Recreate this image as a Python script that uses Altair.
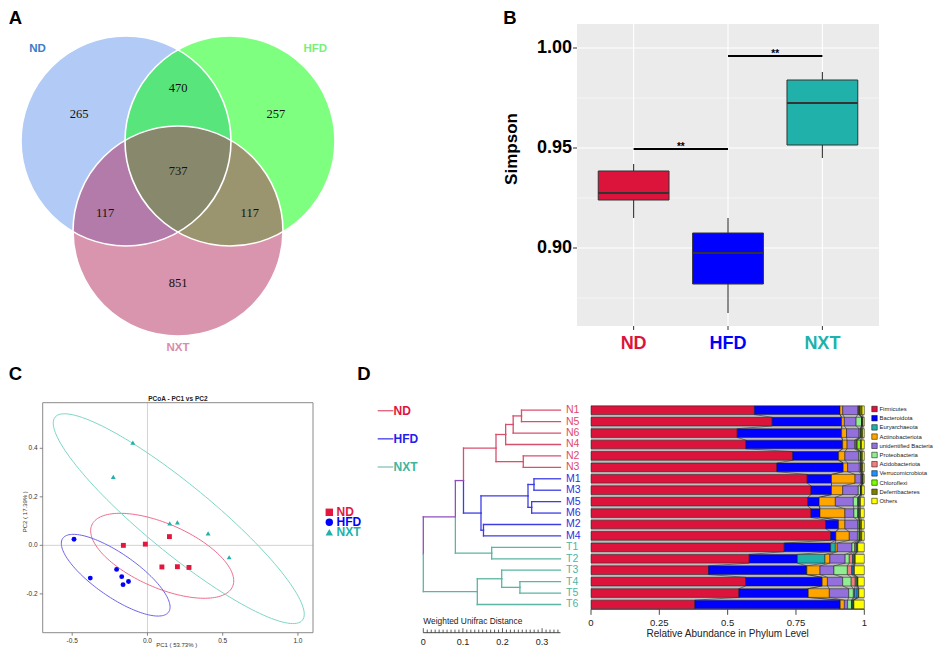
import altair as alt
import numpy as np
import pandas as pd

W, H = 925, 643
SANS = "Liberation Sans"
SERIF = "Liberation Serif"


def P(x):
    return round(x - 8.0, 2)


def Q(y):
    return round(y - 8.0, 2)


def lin(domain, rng):
    return alt.Scale(domain=list(domain), range=list(rng), zero=False, nice=False)


def pts(domain, rng):
    return alt.Scale(type="point", domain=list(domain), range=list(rng), padding=0)


# ======================= DATA =======================
# ---- A: Venn ----
venn_sets = ["ND", "HFD", "NXT"]
venn_regions = ["ND only", "ND & HFD", "HFD only", "all three", "ND & NXT", "HFD & NXT", "NXT only"]
venn_counts = [265, 470, 257, 737, 117, 117, 851]
venn_fill = ["#6495ED", "#00FF00", "#B52B5D"]
venn_label_colors = ["#3A7CC8", "#78F078", "#D98CAA"]

# ---- B: Simpson boxplot ----
b_groups = ["ND", "HFD", "NXT"]
b_colors = ["#DC143C", "#0000FF", "#20B2AA"]
b_lower = [0.915, 0.8675, 0.945]
b_q1 = [0.924, 0.882, 0.9515]
b_median = [0.9275, 0.8975, 0.9725]
b_q3 = [0.9385, 0.9075, 0.984]
b_upper = [0.942, 0.915, 0.988]
b_yticks = [0.90, 0.95, 1.00]
b_yminor = [0.875, 0.925, 0.975]
sig_from = ["ND", "HFD"]
sig_to = ["HFD", "NXT"]
sig_y = [0.9495, 0.996]
sig_label = ["**", "**"]

# ---- C: PCoA ----
c_groups = ["ND", "HFD", "NXT"]
c_point_colors = ["#E3173E", "#0000FF", "#20B2AA"]
c_shapes = ["square", "circle", "triangle-up"]
c_nd_pc1 = [-0.160, -0.014, 0.146, 0.096, 0.199, 0.276]
c_nd_pc2 = [0.000, 0.005, 0.036, -0.089, -0.088, -0.091]
c_hfd_pc1 = [-0.488, -0.380, -0.205, -0.171, -0.126, -0.162]
c_hfd_pc2 = [0.025, -0.135, -0.099, -0.129, -0.149, -0.162]
c_nxt_pc1 = [-0.097, -0.227, 0.148, 0.199, 0.403, 0.543]
c_nxt_pc2 = [0.423, 0.282, 0.091, 0.095, 0.049, -0.049]
c_xticks = [-0.5, 0.0, 0.5, 1.0]
c_yticks = [-0.2, 0.0, 0.2, 0.4]
# confidence ellipses: centre (data units), semi-axes (px), tilt (deg)
ell_colors = ["#EE6E8E", "#6E64E6", "#7ED6C6"]
ell_cx = [0.098, -0.211, 0.208]
ell_cy = [-0.043, -0.123, 0.110]
ell_a = [76.8, 64.5, 160.0]
ell_b = [32.0, 21.6, 34.0]
ell_tilt = [23.6, 34.8, 39.4]

# ---- D: dendrogram + phylum bars ----
d_samples = ["N1", "N5", "N6", "N4", "N2", "N3", "M1", "M3", "M5", "M6", "M2", "M4",
             "T1", "T2", "T3", "T4", "T5", "T6"]
prefix_group = {"N": "ND", "M": "HFD", "T": "NXT"}
d_groups = ["ND", "HFD", "NXT"]
tree_line_colors = ["#D9506E", "#3D3DE6", "#5BB5A2"]
tree_mixed_color = "#8E4FC0"
tree_label_colors = ["#E04A6A", "#3030E0", "#50B4A4"]
legend_line_colors = ["#E0607A", "#3C3CE8", "#86C3B8"]
legend_text_colors = ["#E0143C", "#1E1EF0", "#3DB5A0"]

tree_node = ["a", "b", "c", "e", "Ncl", "g", "h", "i", "j", "Mcl", "NM", "T12", "A", "T45", "T345", "Tcl", "root"]
tree_left = ["N1", "a", "b", "N2", "c", "M1", "M5", "g", "M2", "i", "Ncl", "T1", "NM", "T4", "T3", "T345", "A"]
tree_right = ["N5", "N6", "N4", "N3", "e", "M3", "M6", "h", "M4", "j", "Mcl", "T2", "T12", "T5", "T45", "T6", "Tcl"]
tree_pos = [0.248, 0.227, 0.208, 0.2525, 0.1836, 0.2795, 0.2737, 0.2644, 0.152, 0.1457,
            0.1015, 0.1727, 0.081, 0.244, 0.198, 0.1364, 0.0]
leaf_pos = 0.3465
dist_ticks = [round(0.01 * k, 2) for k in range(35)]
dist_labels = [0, 0.1, 0.2, 0.3]

phyla = ["Firmicutes", "Bacteroidota", "Euryarchaeota", "Actinobacteriota", "unidentified Bacteria",
         "Proteobacteria", "Acidobacteriota", "Verrucomicrobiota", "Chloroflexi", "Deferribacteres", "Others"]
phyla_colors = ["#DC143C", "#0000FF", "#20B2AA", "#FFA500", "#9370DB", "#90EE90", "#F08080",
                "#1E90FF", "#7CFC00", "#808000", "#FFFF00"]
firmicutes = [0.598, 0.663, 0.535, 0.567, 0.738, 0.680, 0.791, 0.805, 0.793, 0.805, 0.859, 0.877, 0.707, 0.579, 0.430, 0.566, 0.541, 0.380]
bacteroidota = [0.313, 0.254, 0.382, 0.354, 0.168, 0.243, 0.089, 0.075, 0.042, 0.033, 0.047, 0.019, 0.170, 0.176, 0.359, 0.279, 0.253, 0.531]
euryarchaeota = [0, 0, 0, 0, 0, 0, 0, 0, 0, 0, 0, 0, 0.017, 0.101, 0.001, 0.001, 0.001, 0.001]
actinobacteriota = [0.010, 0.010, 0.018, 0.016, 0.023, 0.016, 0.086, 0.041, 0.059, 0.091, 0.023, 0.049, 0.007, 0.018, 0.048, 0.019, 0.077, 0.015]
unidentified = [0.055, 0.043, 0.046, 0.028, 0.050, 0.043, 0.022, 0.057, 0.066, 0.033, 0.047, 0.030, 0.054, 0.056, 0.051, 0.056, 0.071, 0.012]
proteobacteria = [0.004, 0.020, 0.004, 0.004, 0.006, 0.005, 0.003, 0.008, 0.016, 0.014, 0.005, 0.006, 0.010, 0.015, 0.049, 0.031, 0.017, 0.014]
acidobacteriota = [0.001, 0.001, 0.001, 0.004, 0.001, 0.001, 0.001, 0.001, 0.002, 0.002, 0.001, 0.001, 0.005, 0.012, 0.016, 0.015, 0.004, 0.002]
verrucomicrobiota = [0.001, 0.001, 0.001, 0.001, 0.001, 0.001, 0.001, 0.001, 0.002, 0.002, 0.001, 0.001, 0.003, 0.005, 0.005, 0.005, 0.010, 0.003]
chloroflexi = [0.002, 0.001, 0.003, 0.012, 0.002, 0.002, 0.002, 0.001, 0.002, 0.002, 0.002, 0.002, 0.002, 0.003, 0.003, 0.003, 0.004, 0.002]
deferribacteres = [0.008, 0.002, 0.004, 0.004, 0.004, 0.003, 0.001, 0.002, 0.004, 0.004, 0.005, 0.006, 0.001, 0.002, 0.002, 0.002, 0.002, 0.002]
others = [0.008, 0.005, 0.006, 0.010, 0.007, 0.006, 0.004, 0.009, 0.014, 0.014, 0.010, 0.009, 0.024, 0.033, 0.036, 0.023, 0.020, 0.038]
abundance = [firmicutes, bacteroidota, euryarchaeota, actinobacteriota, unidentified, proteobacteria,
             acidobacteriota, verrucomicrobiota, chloroflexi, deferribacteres, others]
bar_ticks = [0, 0.25, 0.5, 0.75, 1]
bar_tick_labels = ["0", "0.25", "0.5", "0.75", "1"]

NOAX = dict(axis=None)

# ======================= PANEL A =======================
h3 = float(np.sqrt(3) / 2)
A_X = lin([-1, 1], [P(74), P(282)])
A_Y = lin([-h3, 0], [Q(231), Q(141)])
venn_cx = [-0.5, 0.5, 0.0]
venn_cy = [0.0, 0.0, -h3]
region_x = [-0.95, 0.0, 0.94, 0.0, -0.70, 0.69, 0.0]
region_y = [0.26, 0.51, 0.26, -0.29, -0.69, -0.69, -1.37]
setlab_x = [-1.35, 1.32, 0.0]
setlab_y = [0.885, 0.885, -1.99]

a_circ = pd.DataFrame({"set": venn_sets, "x": venn_cx, "y": venn_cy, "k": [0, 1, 2]})
a_reg = pd.DataFrame({"region": venn_regions, "n": [str(v) for v in venn_counts], "x": region_x, "y": region_y})
a_lab = pd.DataFrame({"set": venn_sets, "x": setlab_x, "y": setlab_y})


def a_xy():
    return dict(x=alt.X("x:Q", scale=A_X, **NOAX), y=alt.Y("y:Q", scale=A_Y, **NOAX))


a_fill = alt.Chart(a_circ).mark_circle(size=210 ** 2, opacity=0.5).encode(
    **a_xy(),
    color=alt.Color("set:N", scale=alt.Scale(domain=venn_sets, range=venn_fill), legend=None),
    order="k:Q")
a_edge = alt.Chart(a_circ).mark_point(shape="circle", size=210 ** 2, filled=False, color="white",
                                      strokeWidth=1.6, opacity=1).encode(**a_xy(), order="k:Q")
a_num = alt.Chart(a_reg).mark_text(font=SERIF, fontSize=12.5, color="#111111").encode(**a_xy(), text="n:N")
a_set = alt.Chart(a_lab).mark_text(font=SANS, fontSize=11.5, fontWeight="bold").encode(
    **a_xy(), text="set:N",
    color=alt.Color("set:N", scale=alt.Scale(domain=venn_sets, range=venn_label_colors), legend=None))
panelA = alt.layer(a_fill, a_edge, a_num, a_set).resolve_scale(color="independent")

# ======================= PANEL B =======================
B_XD = [0.4, 3.6]
B_YD = [0.861, 1.012]
B_X = lin(B_XD, [P(577), P(879)])
B_Y = lin(B_YD, [Q(326), Q(24)])
b_pos = {g: i + 1 for i, g in enumerate(b_groups)}
half = 0.375

b_bgdf = pd.DataFrame({"x0": [B_XD[0]], "x1": [B_XD[1]], "y0": [B_YD[0]], "y1": [B_YD[1]]})
b_bg = alt.Chart(b_bgdf).mark_rect(color="#EBEBEB").encode(
    x=alt.X("x0:Q", scale=B_X, **NOAX), x2="x1:Q",
    y=alt.Y("y0:Q", scale=B_Y, **NOAX), y2="y1:Q")
b_gmaj = alt.Chart(pd.DataFrame({"y": b_yticks, "x0": B_XD[0], "x1": B_XD[1]})).mark_rule(
    color="white", strokeWidth=1.1).encode(
    x=alt.X("x0:Q", scale=B_X, **NOAX), x2="x1:Q", y=alt.Y("y:Q", scale=B_Y, **NOAX))
b_gmin = alt.Chart(pd.DataFrame({"y": b_yminor, "x0": B_XD[0], "x1": B_XD[1]})).mark_rule(
    color="white", strokeWidth=0.5).encode(
    x=alt.X("x0:Q", scale=B_X, **NOAX), x2="x1:Q", y=alt.Y("y:Q", scale=B_Y, **NOAX))
b_gx = alt.Chart(pd.DataFrame({"x": [b_pos[g] for g in b_groups], "y0": B_YD[0], "y1": B_YD[1]})).mark_rule(
    color="white", strokeWidth=1.1).encode(
    x=alt.X("x:Q", scale=B_X, **NOAX), y=alt.Y("y0:Q", scale=B_Y, **NOAX), y2="y1:Q")

b_df = pd.DataFrame({
    "group": b_groups,
    "pos": [b_pos[g] for g in b_groups],
    "lo": b_lower, "q1": b_q1, "med": b_median, "q3": b_q3, "hi": b_upper,
})
b_df["left"] = b_df["pos"] - half
b_df["right"] = b_df["pos"] + half

b_whisk = alt.Chart(b_df).mark_rule(color="#333333", strokeWidth=1.1).encode(
    x=alt.X("pos:Q", scale=B_X, **NOAX), y=alt.Y("lo:Q", scale=B_Y, **NOAX), y2="hi:Q")
b_box = alt.Chart(b_df).mark_rect(stroke="#333333", strokeWidth=1).encode(
    x=alt.X("left:Q", scale=B_X, **NOAX), x2="right:Q",
    y=alt.Y("q1:Q", scale=B_Y, **NOAX), y2="q3:Q",
    color=alt.Color("group:N", scale=alt.Scale(domain=b_groups, range=b_colors), legend=None))
b_med = alt.Chart(b_df).mark_rule(color="#333333", strokeWidth=1.8).encode(
    x=alt.X("left:Q", scale=B_X, **NOAX), x2="right:Q", y=alt.Y("med:Q", scale=B_Y, **NOAX))

s_df = pd.DataFrame({"a": [b_pos[g] for g in sig_from], "b": [b_pos[g] for g in sig_to],
                     "y": sig_y, "t": sig_label})
s_df["mid"] = (s_df["a"] + s_df["b"]) / 2
b_sig = alt.Chart(s_df).mark_rule(color="black", strokeWidth=1.8).encode(
    x=alt.X("a:Q", scale=B_X, **NOAX), x2="b:Q", y=alt.Y("y:Q", scale=B_Y, **NOAX))
b_sigt = alt.Chart(s_df).mark_text(fontSize=10, fontWeight="bold", color="black", baseline="middle", dy=-2).encode(
    x=alt.X("mid:Q", scale=B_X, **NOAX), y=alt.Y("y:Q", scale=B_Y, **NOAX), text="t:N")

# axes of B (ggplot style)
b_yt = pd.DataFrame({"v": b_yticks, "lab": ["%.2f" % v for v in b_yticks]})
b_ytick = alt.Chart(b_yt).mark_rule(color="#333333", strokeWidth=1).encode(
    x=alt.value(P(573)), x2=alt.value(P(577)), y=alt.Y("v:Q", scale=B_Y, **NOAX))
b_ylab = alt.Chart(b_yt).mark_text(align="right", baseline="middle", fontSize=18, fontWeight="bold",
                                   color="black").encode(
    x=alt.value(P(572)), y=alt.Y("v:Q", scale=B_Y, **NOAX), text="lab:N")
b_xt = b_df[["group", "pos"]]
b_xtick = alt.Chart(b_xt).mark_rule(color="#333333", strokeWidth=1).encode(
    x=alt.X("pos:Q", scale=B_X, **NOAX), y=alt.value(Q(326)), y2=alt.value(Q(330)))
b_xlab = alt.Chart(b_xt).mark_text(baseline="middle", fontSize=18, fontWeight="bold").encode(
    x=alt.X("pos:Q", scale=B_X, **NOAX), y=alt.value(Q(343.5)), text="group:N",
    color=alt.Color("group:N", scale=alt.Scale(domain=b_groups, range=b_colors), legend=None))
b_ytitle = alt.Chart(pd.DataFrame({"t": ["Simpson"]})).mark_text(
    angle=270, baseline="middle", fontSize=17, fontWeight="bold", color="black").encode(
    x=alt.value(P(511.7)), y=alt.value(Q(149)), text="t:N")

panelB = alt.layer(b_bg, b_gmin, b_gmaj, b_gx, b_whisk, b_box, b_med, b_sig, b_sigt,
                   b_ytick, b_ylab, b_xtick, b_xlab, b_ytitle)

# ======================= PANEL C =======================
C_XD = [-0.696, 1.10]
C_YD = [-0.360, 0.588]
C_XR = [P(42.7), P(313)]
C_YR = [Q(632.7), Q(402.7)]
C_X = lin(C_XD, C_XR)
C_Y = lin(C_YD, C_YR)
kx = (C_XR[1] - C_XR[0]) / (C_XD[1] - C_XD[0])
ky = (C_YR[0] - C_YR[1]) / (C_YD[1] - C_YD[0])

c_pts = pd.DataFrame({
    "g": ["ND"] * 6 + ["HFD"] * 6 + ["NXT"] * 6,
    "pc1": c_nd_pc1 + c_hfd_pc1 + c_nxt_pc1,
    "pc2": c_nd_pc2 + c_hfd_pc2 + c_nxt_pc2,
})

ell_rows = []
t = np.linspace(0, 2 * np.pi, 145)
for g, cx, cy, a, b, th in zip(c_groups, ell_cx, ell_cy, ell_a, ell_b, ell_tilt):
    r = np.deg2rad(th)
    dx = a * np.cos(t) * np.cos(r) - b * np.sin(t) * np.sin(r)
    dy = a * np.cos(t) * np.sin(r) + b * np.sin(t) * np.cos(r)
    for i in range(len(t)):
        ell_rows.append({"g": g, "i": i, "pc1": cx + dx[i] / kx, "pc2": cy - dy[i] / ky})
c_ell = pd.DataFrame(ell_rows)

c_frame_df = pd.DataFrame({"x0": [C_XD[0]], "x1": [C_XD[1]], "y0": [C_YD[0]], "y1": [C_YD[1]]})
c_frame = alt.Chart(c_frame_df).mark_rect(fillOpacity=0, stroke="#8A8A8A", strokeWidth=1).encode(
    x=alt.X("x0:Q", scale=C_X, **NOAX), x2="x1:Q",
    y=alt.Y("y0:Q", scale=C_Y, **NOAX), y2="y1:Q")
c_v0 = alt.Chart(pd.DataFrame({"x": [0.0], "y0": [C_YD[0]], "y1": [C_YD[1]]})).mark_rule(
    color="#D3D3D3", strokeWidth=1).encode(
    x=alt.X("x:Q", scale=C_X, **NOAX), y=alt.Y("y0:Q", scale=C_Y, **NOAX), y2="y1:Q")
c_h0 = alt.Chart(pd.DataFrame({"y": [0.0], "x0": [C_XD[0]], "x1": [C_XD[1]]})).mark_rule(
    color="#D3D3D3", strokeWidth=1).encode(
    y=alt.Y("y:Q", scale=C_Y, **NOAX), x=alt.X("x0:Q", scale=C_X, **NOAX), x2="x1:Q")
c_lines = alt.Chart(c_ell).mark_line(strokeWidth=1).encode(
    x=alt.X("pc1:Q", scale=C_X, **NOAX), y=alt.Y("pc2:Q", scale=C_Y, **NOAX),
    color=alt.Color("g:N", scale=alt.Scale(domain=c_groups, range=ell_colors), legend=None),
    detail="g:N", order="i:Q")
c_points = alt.Chart(c_pts).mark_point(filled=True, opacity=1, size=24).encode(
    x=alt.X("pc1:Q", scale=C_X, **NOAX), y=alt.Y("pc2:Q", scale=C_Y, **NOAX),
    shape=alt.Shape("g:N", scale=alt.Scale(domain=c_groups, range=c_shapes), legend=None),
    color=alt.Color("g:N", scale=alt.Scale(domain=c_groups, range=c_point_colors), legend=None))
c_title = alt.Chart(pd.DataFrame({"x": [(C_XD[0] + C_XD[1]) / 2], "y": [C_YD[1]],
                                  "t": ["PCoA - PC1 vs PC2"]})).mark_text(
    fontSize=6.5, fontWeight="bold", color="#222222", baseline="bottom", dy=-1).encode(
    x=alt.X("x:Q", scale=C_X, **NOAX), y=alt.Y("y:Q", scale=C_Y, **NOAX), text="t:N")

c_xt = pd.DataFrame({"v": c_xticks, "lab": ["%.1f" % v for v in c_xticks]})
c_yt = pd.DataFrame({"v": c_yticks, "lab": ["%.1f" % v for v in c_yticks]})
c_xtick = alt.Chart(c_xt).mark_rule(color="#666666", strokeWidth=0.8).encode(
    x=alt.X("v:Q", scale=C_X, **NOAX), y=alt.value(Q(632.7)), y2=alt.value(Q(635.7)))
c_xlab = alt.Chart(c_xt).mark_text(baseline="middle", fontSize=6.5, color="#333333").encode(
    x=alt.X("v:Q", scale=C_X, **NOAX), y=alt.value(Q(640.7)), text="lab:N")
c_ytick = alt.Chart(c_yt).mark_rule(color="#666666", strokeWidth=0.8).encode(
    x=alt.value(P(39.7)), x2=alt.value(P(42.7)), y=alt.Y("v:Q", scale=C_Y, **NOAX))
c_ylab = alt.Chart(c_yt).mark_text(align="right", baseline="middle", fontSize=6.5, color="#333333").encode(
    x=alt.value(P(37.6)), y=alt.Y("v:Q", scale=C_Y, **NOAX), text="lab:N")
c_titles = pd.DataFrame({"t": ["PC1 ( 53.73% )"]})
c_xtitle = alt.Chart(c_titles).mark_text(baseline="middle", fontSize=6, color="#333333").encode(
    x=alt.value(P(176.7)), y=alt.value(Q(645.3)), text="t:N")
c_ytitle = alt.Chart(pd.DataFrame({"t": ["PC2 ( 17.39% )"]})).mark_text(
    angle=270, baseline="middle", fontSize=6, color="#333333").encode(
    x=alt.value(P(24.8)), y=alt.value(Q(511.7)), text="t:N")

panelC = alt.layer(c_v0, c_h0, c_frame, c_lines, c_points, c_title,
                   c_xtick, c_xlab, c_ytick, c_ylab, c_xtitle, c_ytitle).resolve_scale(color="independent")

c_leg_df = pd.DataFrame({"g": c_groups})
c_leg_y = pts(c_groups, [Q(512.3), Q(532.3)])
c_leg_sym = alt.Chart(c_leg_df).mark_point(filled=True, opacity=1, size=55).encode(
    x=alt.value(P(329.3)), y=alt.Y("g:N", scale=c_leg_y, **NOAX),
    shape=alt.Shape("g:N", scale=alt.Scale(domain=c_groups, range=c_shapes), legend=None),
    color=alt.Color("g:N", scale=alt.Scale(domain=c_groups, range=c_point_colors), legend=None))
c_leg_txt = alt.Chart(c_leg_df).mark_text(align="left", baseline="middle", fontSize=12,
                                          fontWeight="bold").encode(
    x=alt.value(P(336.5)), y=alt.Y("g:N", scale=c_leg_y, **NOAX), text="g:N",
    color=alt.Color("g:N", scale=alt.Scale(domain=c_groups, range=c_point_colors), legend=None))
legendC = alt.layer(c_leg_sym, c_leg_txt)

# ======================= PANEL D =======================
D_Y = lin([-0.5, len(d_samples) - 0.5], [Q(404.5), Q(610.2)])
D_TX = lin([0, leaf_pos], [P(423.3), P(560.5)])
D_BX = lin([0, 1], [P(591), P(864.3)])

node_y = {s: float(i) for i, s in enumerate(d_samples)}
node_x = {s: leaf_pos for s in d_samples}
node_g = {s: prefix_group[s[0]] for s in d_samples}
segs = []
for n, l, r, p in zip(tree_node, tree_left, tree_right, tree_pos):
    node_y[n] = (node_y[l] + node_y[r]) / 2
    node_x[n] = p
    node_g[n] = node_g[l] if node_g[l] == node_g[r] else "mixed"
    for c in (l, r):
        segs.append({"x": p, "x2": p, "y": node_y[n], "y2": node_y[c], "g": node_g[c]})
        segs.append({"x": p, "x2": node_x[c], "y": node_y[c], "y2": node_y[c], "g": node_g[c]})
seg_df = pd.DataFrame(segs)

tree_dom = d_groups + ["mixed"]
tree_rng = tree_line_colors + [tree_mixed_color]
d_tree = alt.Chart(seg_df).mark_rule(strokeWidth=1.3, strokeCap="square").encode(
    x=alt.X("x:Q", scale=D_TX, **NOAX), x2="x2:Q",
    y=alt.Y("y:Q", scale=D_Y, **NOAX), y2="y2:Q",
    color=alt.Color("g:N", scale=alt.Scale(domain=tree_dom, range=tree_rng), legend=None))
leaf_df = pd.DataFrame({"s": d_samples, "row": list(range(len(d_samples))),
                        "g": [prefix_group[s[0]] for s in d_samples], "x": leaf_pos})
d_leaf = alt.Chart(leaf_df).mark_text(align="left", baseline="middle", dx=5.5, fontSize=10.5).encode(
    x=alt.X("x:Q", scale=D_TX, **NOAX), y=alt.Y("row:Q", scale=D_Y, **NOAX), text="s:N",
    color=alt.Color("g:N", scale=alt.Scale(domain=d_groups, range=tree_label_colors), legend=None))

# distance scale bar (R-style axis, ticks pointing up)
dt_df = pd.DataFrame({"v": dist_ticks})
dt_df["major"] = [abs(v * 10 - round(v * 10)) < 1e-9 for v in dist_ticks]
d_dline = alt.Chart(pd.DataFrame({"a": [0.0], "b": [leaf_pos]})).mark_rule(
    color="#333333", strokeWidth=0.9).encode(
    x=alt.X("a:Q", scale=D_TX, **NOAX), x2="b:Q", y=alt.value(Q(632.7)))
d_dminor = alt.Chart(dt_df[~dt_df["major"]]).mark_rule(color="#333333", strokeWidth=0.8).encode(
    x=alt.X("v:Q", scale=D_TX, **NOAX), y=alt.value(Q(629.6)), y2=alt.value(Q(632.7)))
d_dmajor = alt.Chart(dt_df[dt_df["major"]]).mark_rule(color="#333333", strokeWidth=0.8).encode(
    x=alt.X("v:Q", scale=D_TX, **NOAX), y=alt.value(Q(628.2)), y2=alt.value(Q(632.7)))
dl_df = pd.DataFrame({"v": dist_labels, "lab": ["%g" % v for v in dist_labels]})
d_dlab = alt.Chart(dl_df).mark_text(baseline="middle", fontSize=9, color="#222222").encode(
    x=alt.X("v:Q", scale=D_TX, **NOAX), y=alt.value(Q(641.5)), text="lab:N")
d_dtitle = alt.Chart(pd.DataFrame({"v": [0.0], "t": ["Weighted Unifrac Distance"]})).mark_text(
    align="left", baseline="middle", fontSize=8.4, color="#222222").encode(
    x=alt.X("v:Q", scale=D_TX, **NOAX), y=alt.value(Q(620.7)), text="t:N")

panelDtree = alt.layer(d_tree, d_leaf, d_dline, d_dminor, d_dmajor, d_dlab, d_dtitle).resolve_scale(
    color="independent")

# bars
mat = np.array(abundance).T  # samples x phyla
ends = np.cumsum(mat, axis=1)
starts = ends - mat
bar_half = 0.38
bar_rows = []
for i, s in enumerate(d_samples):
    for k, ph in enumerate(phyla):
        if mat[i, k] > 0:
            bar_rows.append({"s": s, "row": i, "ph": ph, "x0": starts[i, k], "x1": ends[i, k],
                             "y0": i - bar_half, "y1": i + bar_half})
bar_df = pd.DataFrame(bar_rows)
conn_rows = []
for i in range(len(d_samples) - 1):
    for k in range(len(phyla) - 1):
        conn_rows.append({"x": ends[i, k], "x2": ends[i + 1, k], "y": i + bar_half, "y2": i + 1 - bar_half})
conn_df = pd.DataFrame(conn_rows)

gap_df = pd.DataFrame({"x0": [0.0], "x1": [1.0], "y0": [-bar_half], "y1": [len(d_samples) - 1 + bar_half]})
d_gap = alt.Chart(gap_df).mark_rect(color="#BDBDBD").encode(
    x=alt.X("x0:Q", scale=D_BX, **NOAX), x2="x1:Q",
    y=alt.Y("y0:Q", scale=D_Y, **NOAX), y2="y1:Q")
d_conn = alt.Chart(conn_df).mark_rule(color="#333333", strokeWidth=0.6).encode(
    x=alt.X("x:Q", scale=D_BX, **NOAX), x2="x2:Q", y=alt.Y("y:Q", scale=D_Y, **NOAX), y2="y2:Q")
d_bars = alt.Chart(bar_df).mark_rect(stroke="#1A1A1A", strokeWidth=0.5).encode(
    x=alt.X("x0:Q", scale=D_BX, **NOAX), x2="x1:Q",
    y=alt.Y("y0:Q", scale=D_Y, **NOAX), y2="y1:Q",
    color=alt.Color("ph:N", scale=alt.Scale(domain=phyla, range=phyla_colors), legend=None))

bt_df = pd.DataFrame({"v": bar_ticks, "lab": bar_tick_labels})
d_bline = alt.Chart(pd.DataFrame({"a": [0.0], "b": [1.0]})).mark_rule(color="#333333", strokeWidth=0.9).encode(
    x=alt.X("a:Q", scale=D_BX, **NOAX), x2="b:Q", y=alt.value(Q(609.3)))
d_btick = alt.Chart(bt_df).mark_rule(color="#333333", strokeWidth=0.9).encode(
    x=alt.X("v:Q", scale=D_BX, **NOAX), y=alt.value(Q(609.3)), y2=alt.value(Q(614.8)))
d_blab = alt.Chart(bt_df).mark_text(baseline="middle", fontSize=9.5, color="#222222").encode(
    x=alt.X("v:Q", scale=D_BX, **NOAX), y=alt.value(Q(623.3)), text="lab:N")
d_btitle = alt.Chart(pd.DataFrame({"v": [0.5], "t": ["Relative Abundance in Phylum Level"]})).mark_text(
    baseline="middle", fontSize=10, color="#222222").encode(
    x=alt.X("v:Q", scale=D_BX, **NOAX), y=alt.value(Q(634)), text="t:N")

panelDbars = alt.layer(d_gap, d_conn, d_bars, d_bline, d_btick, d_blab, d_btitle)

# phylum legend
ph_df = pd.DataFrame({"ph": phyla})
ph_y = pts(phyla, [Q(409), Q(501)])
ph_sym = alt.Chart(ph_df).mark_square(size=30, stroke="black", strokeWidth=0.5, opacity=1).encode(
    x=alt.value(P(874.5)), y=alt.Y("ph:N", scale=ph_y, **NOAX),
    color=alt.Color("ph:N", scale=alt.Scale(domain=phyla, range=phyla_colors), legend=None))
ph_txt = alt.Chart(ph_df).mark_text(align="left", baseline="middle", fontSize=5.9, color="#222222").encode(
    x=alt.value(P(879.5)), y=alt.Y("ph:N", scale=ph_y, **NOAX), text="ph:N")
legendD = alt.layer(ph_sym, ph_txt)

# group legend of the tree
gl_df = pd.DataFrame({"g": d_groups})
gl_y = pts(d_groups, [Q(410.7), Q(467)])
gl_line = alt.Chart(gl_df).mark_rule(strokeWidth=1.3).encode(
    x=alt.value(P(377.7)), x2=alt.value(P(393.3)), y=alt.Y("g:N", scale=gl_y, **NOAX),
    color=alt.Color("g:N", scale=alt.Scale(domain=d_groups, range=legend_line_colors), legend=None))
gl_txt = alt.Chart(gl_df).mark_text(align="left", baseline="middle", fontSize=12, fontWeight="bold").encode(
    x=alt.value(P(393.5)), y=alt.Y("g:N", scale=gl_y, **NOAX), text="g:N",
    color=alt.Color("g:N", scale=alt.Scale(domain=d_groups, range=legend_text_colors), legend=None))
legendTree = alt.layer(gl_line, gl_txt).resolve_scale(color="independent")

# panel letters
letter_df = pd.DataFrame({"k": [0]})


def letter(txt, x, y):
    return alt.Chart(letter_df).mark_text(text=txt, fontSize=18.5, fontWeight="bold", color="black",
                                          baseline="middle", align="center").encode(
        x=alt.value(P(x)), y=alt.value(Q(y)))


letters = alt.layer(letter("A", 15.5, 17.8), letter("B", 510, 17.8),
                    letter("C", 15.5, 373.5), letter("D", 364, 373.5))

chart = alt.layer(
    panelA, panelB, panelC, legendC, panelDtree, panelDbars, legendD, legendTree, letters
).resolve_scale(
    x="independent", y="independent", color="independent", shape="independent"
).properties(
    width=W, height=H, padding=0, autosize=alt.AutoSizeParams(type="none")
).configure(font=SANS).configure_view(strokeWidth=0)

chart.save("out.html", embed_options={"renderer": "svg", "actions": False})
